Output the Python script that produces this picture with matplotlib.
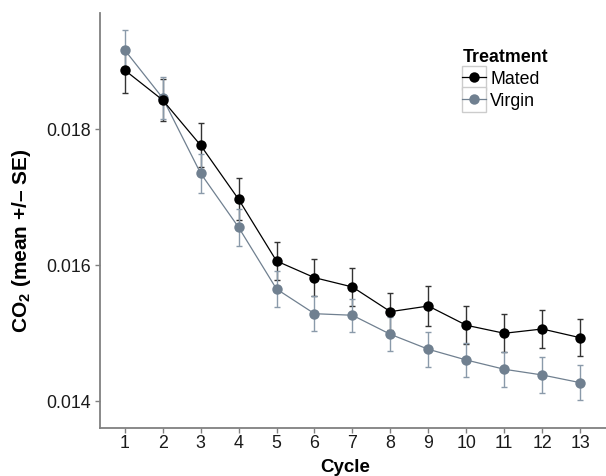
import matplotlib
matplotlib.use("Agg")
import matplotlib.pyplot as plt
from matplotlib.legend_handler import HandlerLine2D
from matplotlib.patches import Rectangle
from matplotlib.lines import Line2D

plt.rcParams['font.family'] = ['Liberation Sans', 'DejaVu Sans']
plt.rcParams['mathtext.fontset'] = 'custom'
plt.rcParams['mathtext.rm'] = 'Liberation Sans'
plt.rcParams['mathtext.bf'] = 'Liberation Sans:bold'

cycles = list(range(1, 14))
mated = [0.01887, 0.01843, 0.017765, 0.016971, 0.016063, 0.015818, 0.015681,
         0.015318, 0.015401, 0.015118, 0.015000, 0.015063, 0.014935]
mated_se = [0.00034, 0.00031, 0.00032, 0.00031, 0.00028, 0.00027, 0.00028,
            0.00027, 0.00029, 0.00028, 0.00028, 0.00028, 0.00027]
virgin = [0.019166, 0.01846, 0.017353, 0.016559, 0.015651, 0.015288, 0.015265,
          0.014985, 0.014765, 0.014607, 0.014471, 0.014387, 0.014274]
virgin_se = [0.00029, 0.00031, 0.00029, 0.00027, 0.00027, 0.00026, 0.00024,
             0.00025, 0.00026, 0.00025, 0.00026, 0.00026, 0.00026]
yticks = [0.014, 0.016, 0.018]
ytick_labels = ["0.014", "0.016", "0.018"]

mated_color = "#000000"
virgin_color = "#708090"

fig = plt.figure(figsize=(6.06, 4.76), dpi=100)
ax = fig.add_axes([0.165, 0.1008, 0.835, 0.872])

ax.errorbar(cycles, mated, yerr=mated_se, fmt='none', ecolor='#333333',
            elinewidth=1.0, capsize=2, capthick=1.0, zorder=2)
ax.errorbar(cycles, virgin, yerr=virgin_se, fmt='none', ecolor='#8a9aaa',
            elinewidth=1.0, capsize=2, capthick=1.0, zorder=2)
ax.plot(cycles, virgin, color=virgin_color, lw=0.9, marker='o', ms=7.5,
        markeredgewidth=0, zorder=3, label='Virgin')
ax.plot(cycles, mated, color=mated_color, lw=0.9, marker='o', ms=7.5,
        markeredgewidth=0, zorder=4, label='Mated')

ax.set_xlim(0.35, 13.68)
ax.set_ylim(0.013607, 0.01971)
ax.set_xticks(cycles)
ax.set_xticklabels([str(c) for c in cycles])
ax.set_yticks(yticks)
ax.set_yticklabels(ytick_labels)

for s in ['top', 'right']:
    ax.spines[s].set_visible(False)
for s in ['left', 'bottom']:
    ax.spines[s].set_color('#808080')
    ax.spines[s].set_linewidth(1.3)
ax.tick_params(axis='both', colors='#808080', length=3.5, width=1.0,
               labelsize=12.8, labelcolor='#1a1a1a')
ax.tick_params(axis='x', pad=1.5)
ax.tick_params(axis='y', pad=3)

ax.set_xlabel('Cycle', fontsize=13.5, fontweight='bold')
ax.xaxis.set_label_coords((345 - 100) / 506, -(459 - 428) / 415)
ax.set_ylabel(r'$\mathbf{CO}_\mathbf{2}$ (mean +/– SE)', fontsize=15,
              fontweight='bold')
ax.yaxis.set_label_coords(-(100 - 33) / 506, (428 - 241) / 415)


class BoxedHandler(HandlerLine2D):
    def create_artists(self, legend, orig_handle, xdescent, ydescent, width,
                       height, fontsize, trans):
        arts = super().create_artists(legend, orig_handle, xdescent, ydescent,
                                      width, height, fontsize, trans)
        rect = Rectangle((-xdescent, -ydescent - 3), width, height + 6,
                         facecolor='white', edgecolor='#cccccc', lw=1.0,
                         transform=trans)
        return [rect] + list(arts)


h_m = Line2D([], [], color=mated_color, lw=0.9, marker='o', ms=7.5,
             markeredgewidth=0)
h_v = Line2D([], [], color=virgin_color, lw=0.9, marker='o', ms=7.5,
             markeredgewidth=0)
leg = fig.legend([h_m, h_v], ['Mated', 'Virgin'], loc='upper left',
                 bbox_to_anchor=(450 / 606, 1 - 37 / 476), frameon=False,
                 title='Treatment', fontsize=12.8, handlelength=1.35,
                 handleheight=1.0,
                 handletextpad=0.2, labelspacing=0.2, borderpad=0.2,
                 handler_map={Line2D: BoxedHandler()})
leg.get_title().set_fontweight('bold')
leg.get_title().set_fontsize(12.8)
leg._legend_box.align = 'left'

fig.savefig('out.png', dpi=100)
